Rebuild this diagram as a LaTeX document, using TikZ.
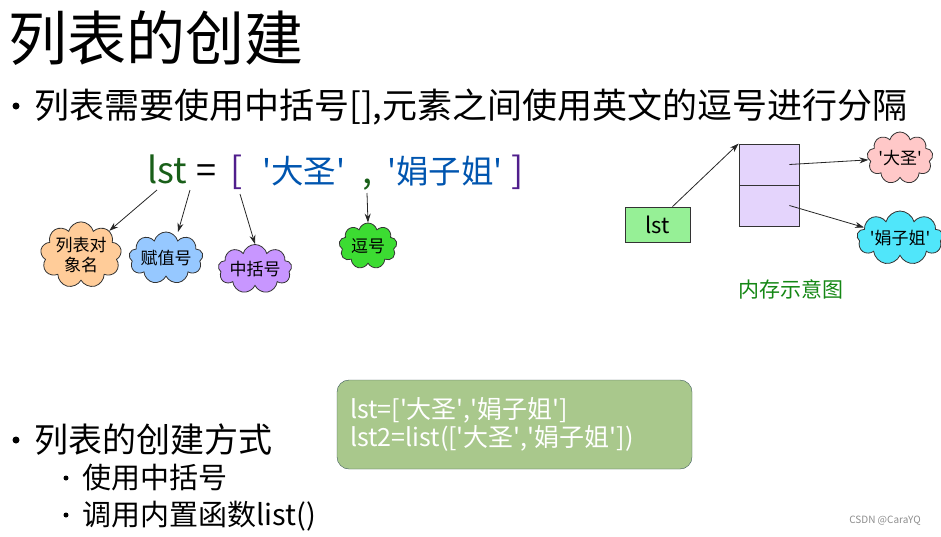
\documentclass[tikz,border=0pt]{standalone}
\usepackage{fontspec}
\setmainfont{Noto Sans CJK SC}
\usetikzlibrary{shapes.symbols,arrows.meta}
\definecolor{lstgreen}{RGB}{25,95,25}
\definecolor{brpurple}{RGB}{80,30,140}
\definecolor{strblue}{RGB}{0,85,175}
\definecolor{cOrange}{RGB}{255,204,153}
\definecolor{cBlue}{RGB}{150,200,255}
\definecolor{cPurple}{RGB}{200,150,255}
\definecolor{cGreen}{RGB}{60,220,50}
\definecolor{cPink}{RGB}{255,200,200}
\definecolor{cCyan}{RGB}{80,230,250}
\definecolor{boxgreen}{RGB}{150,240,150}
\definecolor{cellpurple}{RGB}{228,212,252}
\definecolor{codegreen}{RGB}{169,200,140}
\definecolor{codeedge}{RGB}{60,90,90}
\definecolor{memgreen}{RGB}{20,135,20}
\newcommand{\sq}{\textquotesingle}
\newcommand{\fs}[1]{\fontsize{#1}{#1}\selectfont}
\begin{document}
\begin{tikzpicture}[x=1pt,y=-1pt,
  txt/.style={inner sep=0pt, anchor=base west},
  dot/.style={inner sep=0pt, circle, fill=black, minimum size=#1},
  puff/.style={cloud, cloud puffs=9, cloud ignores aspect, draw=black!80, thick, inner sep=0pt, align=center, font=\fontsize{17}{20}\selectfont},
  cell/.style={draw=black!80, thick, fill=cellpurple, minimum width=60pt, minimum height=41pt, inner sep=0pt},
  arr/.style={-{Stealth[length=9pt,width=6pt]}, thick, black!85}]
\useasboundingbox (0,0) rectangle (941,536);
\node[txt, font=\fs{59}] (title) at (8,60){列表的创建};
\node[dot=7pt] (d1) at (16,106){};
\node[txt, font=\fs{35}] (b1) at (34,118){列表需要使用中括号[],元素之间使用英文的逗号进行分隔};
\node[txt, font=\fs{36}, text=lstgreen] (lst) at (147,183){lst};
\node[txt, font=\fs{36}] (eq) at (196,183){=};
\node[txt, font=\fs{36}, text=brpurple] (lbr) at (230,183){[};
\node[txt, font=\fs{32.5}, text=strblue] (s1) at (262,183){\sq{}大圣\sq{}};
\node[txt, font=\fs{36}, text=lstgreen] (comma) at (362,183){,};
\node[txt, font=\fs{32.5}, text=strblue] (s2) at (387,183){\sq{}娟子姐\sq{}};
\node[txt, font=\fs{36}, text=brpurple] (rbr) at (511,183){]};
\node[puff, fill=cOrange, minimum width=74pt, minimum height=58pt] (c1) at (81,255){列表对\\象名};
\node[puff, fill=cBlue, minimum width=74pt, minimum height=52pt] (c2) at (166,258){赋值号};
\node[puff, fill=cPurple, minimum width=72pt, minimum height=49pt] (c3) at (255,269){中括号};
\node[puff, fill=cGreen, minimum width=58pt, minimum height=46pt] (c4) at (368,246){逗号};
\coordinate (p1) at (157,190);
\coordinate (p2) at (190,190);
\coordinate (p3) at (240,194);
\coordinate (p4) at (367,193);
\draw[arr](p1) -- (c1);
\draw[arr](p2) -- (178,232);
\draw[arr](p3) -- (c3.north);
\draw[arr](p4) -- (c4.north);
\node[draw=black!80, thick, fill=boxgreen, minimum width=65pt, minimum height=35pt, font=\fs{22}] (lstbox) at (657.5,224.5){lst};
\node[cell] (m1) at (769,164.5){};
\node[cell] (m2) at (769,205.5){};
\node[puff, fill=cPink, minimum width=66pt, minimum height=52pt] (c5) at (900,158){\sq{}大圣\sq{}};
\node[puff, fill=cCyan, minimum width=78pt, minimum height=54pt] (c6) at (900,238){\sq{}娟子姐\sq{}};
\draw[arr]([xshift=15pt]lstbox.north) -- (m1.north west);
\draw[arr]([xshift=-10pt]m1.east) -- (c5);
\draw[arr]([xshift=-10pt]m2.east) -- (c6);
\node[font=\fs{21}, text=memgreen] (memlbl) at (791,289){内存示意图};
\node[draw=codeedge, fill=codegreen, rounded corners=12pt, minimum width=355pt, minimum height=89pt, text width=329pt, align=left, text=white, font=\fontsize{25}{28}\selectfont] (code) at (514.5,424.5){lst=[\sq{}大圣\sq{},\sq{}娟子姐\sq{}]\\lst2=list([\sq{}大圣\sq{},\sq{}娟子姐\sq{}])};
\node[dot=7pt] (d2) at (16,440){};
\node[txt, font=\fs{34}] (b2) at (34,452){列表的创建方式};
\node[dot=5pt] (d3) at (66,478){};
\node[txt, font=\fs{29}] (b3) at (82,488){使用中括号};
\node[dot=5pt] (d4) at (66,515){};
\node[txt, font=\fs{29}] (b4) at (82,525){调用内置函数list()};
\node[font=\fs{10}, text=black!45] (mark) at (885,521){CSDN @CaraYQ};
\end{tikzpicture}
\end{document}
